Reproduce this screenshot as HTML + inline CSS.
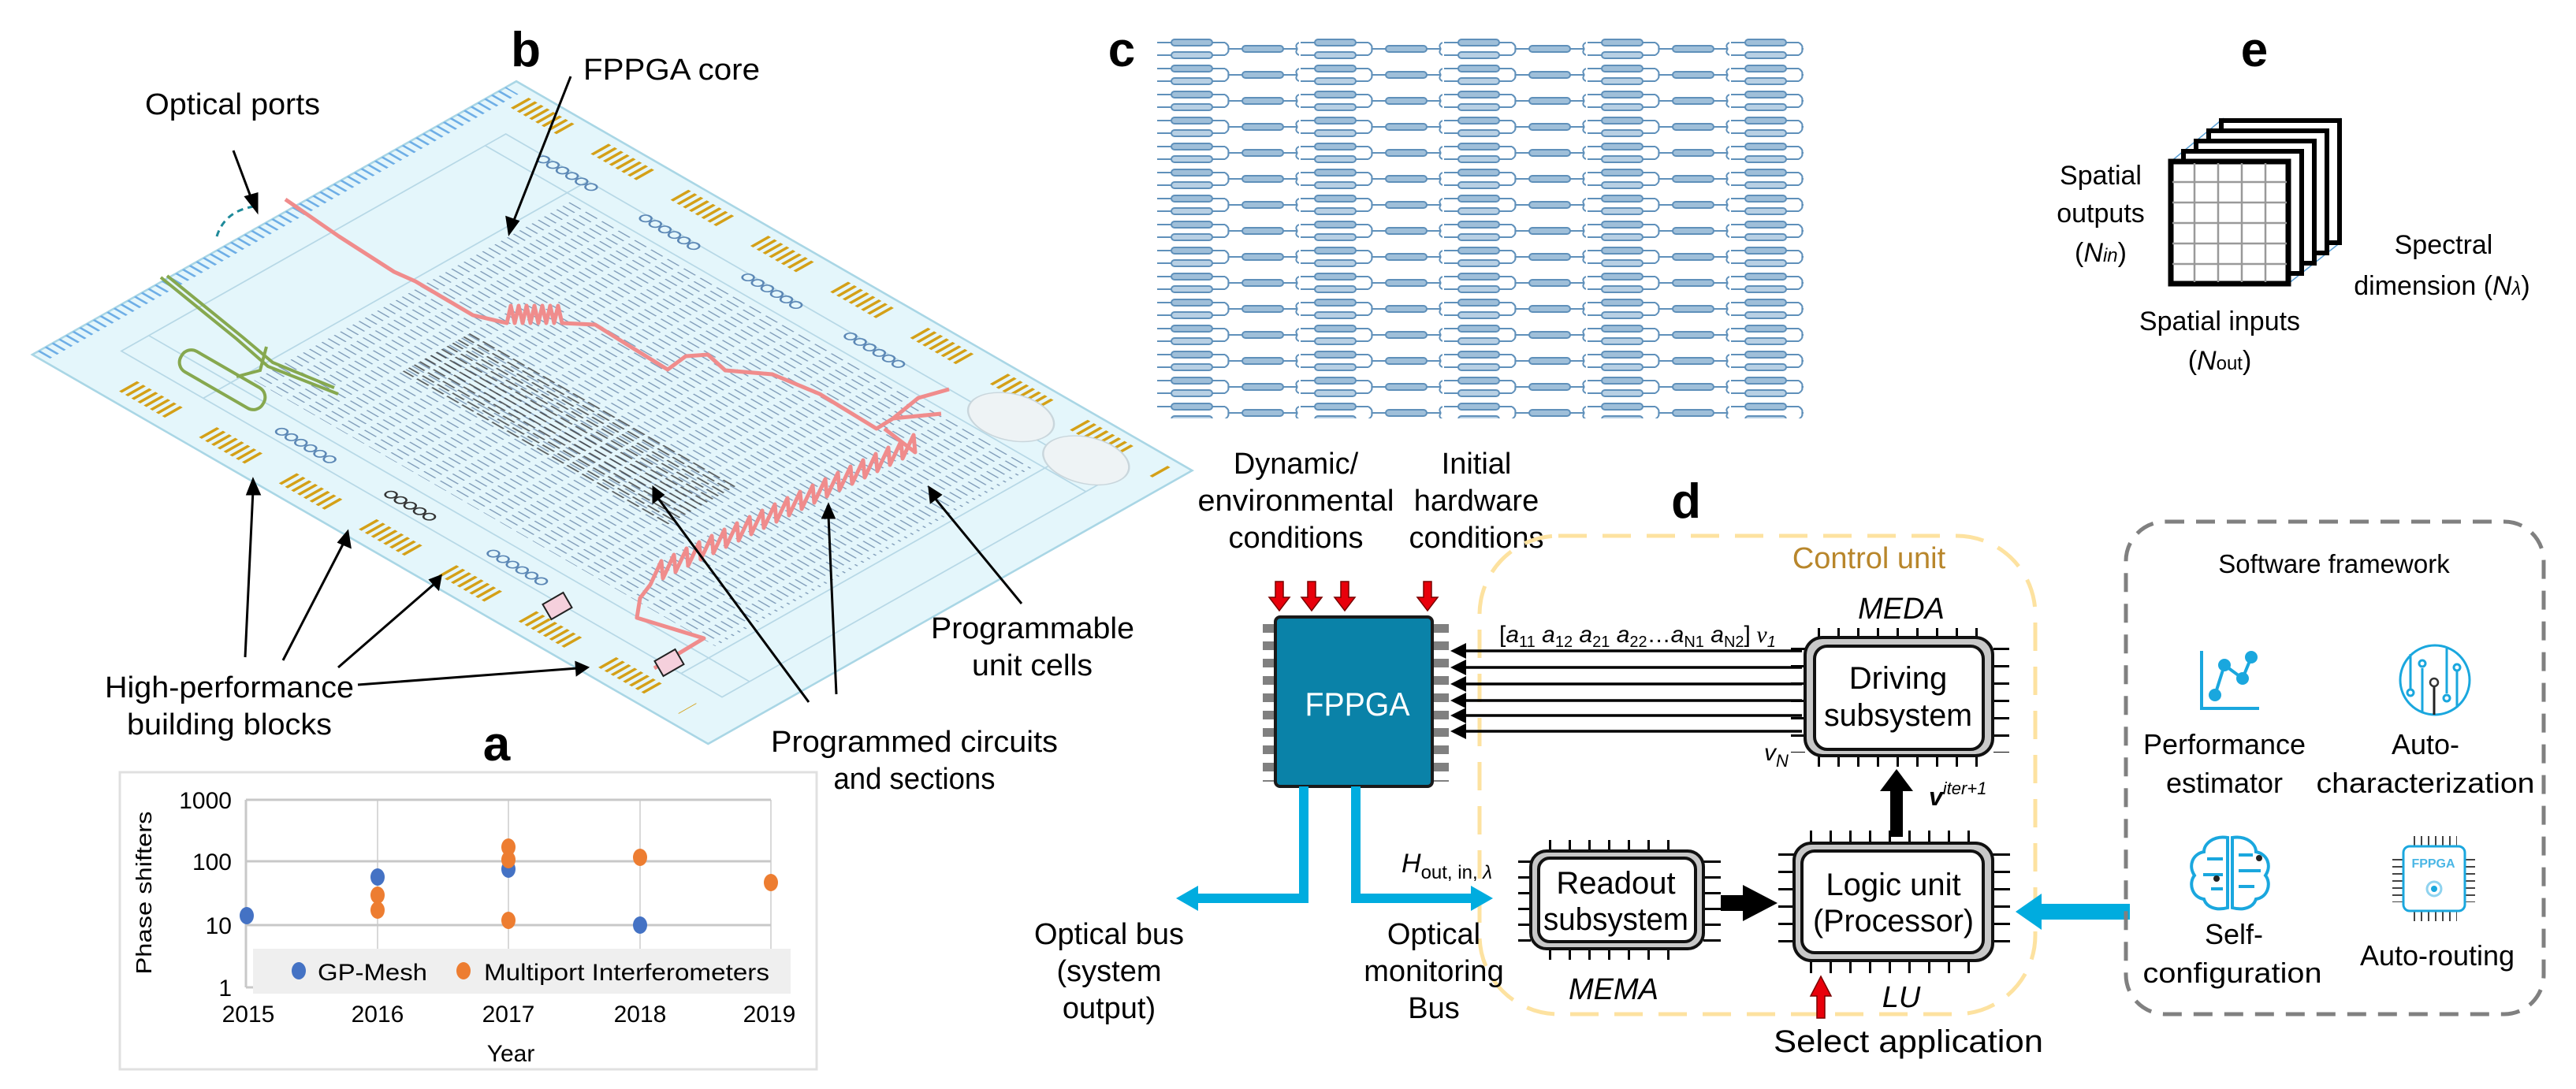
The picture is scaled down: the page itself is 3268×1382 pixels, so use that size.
<!DOCTYPE html>
<html><head><meta charset="utf-8">
<style>
html,body{margin:0;padding:0;background:#fff;}
svg{display:block;}
text{font-family:"Liberation Sans",Arial,sans-serif;}
.n{font-family:"Liberation Sans Narrow","Liberation Sans",sans-serif;}
.tm{font-family:"Liberation Serif",serif;font-style:italic;}
</style></head><body>
<svg width="3268" height="1382" viewBox="0 0 3268 1382" xmlns="http://www.w3.org/2000/svg">
<defs>
<pattern id="mesh" patternUnits="userSpaceOnUse" width="9" height="24">
<line x1="4" y1="2" x2="4" y2="19" stroke="#7f9bb8" stroke-width="1.6"/>
</pattern>
<pattern id="dmesh" patternUnits="userSpaceOnUse" width="8" height="22">
<line x1="4" y1="2" x2="4" y2="19" stroke="#333" stroke-width="2"/>
</pattern>
<pattern id="cp" patternUnits="userSpaceOnUse" x="1466" y="46" width="182" height="33">
<g stroke="#5f90ba" fill="none" stroke-width="2">
<line x1="2" y1="8" x2="88" y2="8"/><rect x="20" y="4" width="52" height="8" rx="4" fill="#9fbfd9"/>
<line x1="2" y1="24" x2="88" y2="24"/><rect x="20" y="20" width="52" height="8" rx="4" fill="#b8d0e4"/>
<path d="M88 8 q6 4 4 8 M88 24 q6 -4 4 -8"/>
<line x1="92" y1="16" x2="180" y2="16"/><rect x="110" y="12" width="52" height="8" rx="4" fill="#9fbfd9"/>
<path d="M180 16 q-4 -5 2 -8 M180 16 q-4 5 2 8"/>
</g>
</pattern>
</defs>

<!-- ===== Panel b chip ===== -->
<g transform="matrix(0.871,-0.492,0.866,0.499,41,450)">
<rect x="0" y="0" width="705" height="990" fill="#e4f6fb" stroke="#a9d6e5" stroke-width="3"/>
<line x1="8" y1="9" x2="690" y2="9" stroke="#6eaee6" stroke-width="18" stroke-dasharray="3 7"/>
<line x1="680" y1="30" x2="680" y2="970" stroke="#d4a017" stroke-width="26" stroke-dasharray="4,5,4,5,4,5,4,5,4,5,4,5,4,5,4,50"/>
<line x1="30" y1="110" x2="30" y2="930" stroke="#d4a017" stroke-width="26" stroke-dasharray="4,5,4,5,4,5,4,5,4,5,4,5,4,5,4,50"/>
<g fill="none" stroke="#b7d8e6" stroke-width="2">
<rect x="70" y="60" width="560" height="880"/>
<line x1="70" y1="180" x2="630" y2="180"/><line x1="70" y1="880" x2="630" y2="880"/>
<line x1="600" y1="60" x2="600" y2="940"/><line x1="110" y1="60" x2="110" y2="940"/>
</g>
<rect x="130" y="190" width="460" height="680" fill="url(#mesh)"/>
<rect x="250" y="290" width="100" height="390" fill="url(#dmesh)" opacity="0.8"/>
<g fill="none" stroke="#5b87b5" stroke-width="2.2">
<circle cx="625" cy="120" r="6"/><circle cx="625" cy="134" r="6"/><circle cx="625" cy="148" r="6"/><circle cx="625" cy="162" r="6"/><circle cx="625" cy="176" r="6"/><circle cx="625" cy="190" r="6"/>
<circle cx="625" cy="270" r="6"/><circle cx="625" cy="284" r="6"/><circle cx="625" cy="298" r="6"/><circle cx="625" cy="312" r="6"/><circle cx="625" cy="326" r="6"/><circle cx="625" cy="340" r="6"/>
<circle cx="625" cy="420" r="6"/><circle cx="625" cy="434" r="6"/><circle cx="625" cy="448" r="6"/><circle cx="625" cy="462" r="6"/><circle cx="625" cy="476" r="6"/><circle cx="625" cy="490" r="6"/>
<circle cx="625" cy="570" r="6"/><circle cx="625" cy="584" r="6"/><circle cx="625" cy="598" r="6"/><circle cx="625" cy="612" r="6"/><circle cx="625" cy="626" r="6"/><circle cx="625" cy="640" r="6"/>
<circle cx="85" cy="280" r="6"/><circle cx="85" cy="294" r="6"/><circle cx="85" cy="308" r="6"/><circle cx="85" cy="322" r="6"/><circle cx="85" cy="336" r="6"/><circle cx="85" cy="350" r="6"/>
<circle cx="85" cy="440" r="6" stroke="#333"/><circle cx="85" cy="454" r="6" stroke="#333"/><circle cx="85" cy="468" r="6" stroke="#333"/><circle cx="85" cy="482" r="6" stroke="#333"/><circle cx="85" cy="496" r="6" stroke="#333"/>
<circle cx="85" cy="590" r="6"/><circle cx="85" cy="604" r="6"/><circle cx="85" cy="618" r="6"/><circle cx="85" cy="632" r="6"/><circle cx="85" cy="646" r="6"/><circle cx="85" cy="660" r="6"/>
</g>
<ellipse cx="640" cy="790" rx="38" ry="50" fill="#eef3f5" stroke="#c9d6dc" stroke-width="2"/>
<ellipse cx="640" cy="900" rx="38" ry="50" fill="#eef3f5" stroke="#c9d6dc" stroke-width="2"/>
</g>
<!-- green structure -->
<g fill="none" stroke="#86a84f" stroke-width="4">
<path d="M204 352 L300 430 L340 465 L429 500"/>
<path d="M212 350 L308 428 L346 460 L424 492"/>
<path d="M338 440 L330 470 L300 478"/>
<rect x="222" y="467" width="120" height="30" rx="14" transform="rotate(30 282 482)"/>
</g>
<!-- red route -->
<g fill="none" stroke="#f08c8c" stroke-width="5" stroke-linejoin="round">
<path d="M362 253 L430 300 L500 345 L527 357 L600 400 L643 410 l5 -22 l5 22 l5 -22 l5 22 l5 -22 l5 22 l5 -22 l5 22 l5 -22 l5 22 l5 -22 l5 22 l5 -22 l5 22 L755 412 L800 440 L847 469 L870 452 L898 450 L920 470 L980 475 L1040 500 L1112 544 L1133 531 L1165 505 L1204 494 M1133 531 L1194 525"/>
<path d="M1122 544 L1161 574 l-2 -22 l-14 30 l-2 -22 l-14 30 l-2 -22 l-14 30 l-2 -22 l-14 30 l-2 -22 l-14 30 l-2 -22 l-14 30 l-2 -22 l-14 30 l-2 -22 l-14 30 l-2 -22 l-14 30 l-2 -22 l-14 30 l-2 -22 l-14 30 l-2 -22 l-14 30 l-2 -22 l-14 30 l-2 -22 l-14 30 l-2 -22 l-14 30 l-2 -22 l-14 30 l-2 -22 l-14 30 l-2 -22 l-14 30 l-2 -22 l-14 30 l-2 -22 l-14 30 l-2 -22 l-14 30 L812 759 L808 784 L893 810 L830 848"/>
</g>
<g stroke="#222" stroke-width="2" fill="#f5d0dc"><rect x="692" y="758" width="30" height="22" transform="rotate(-30 707 769)"/><rect x="834" y="830" width="30" height="22" transform="rotate(-30 849 841)"/></g>

<!-- b labels -->
<text x="667" y="84" font-size="62" font-weight="bold" text-anchor="middle">b</text>
<text x="740" y="101" font-size="38" class="n" textLength="224" lengthAdjust="spacingAndGlyphs">FPPGA core</text>
<text x="184" y="145" font-size="38" class="n" textLength="222" lengthAdjust="spacingAndGlyphs">Optical ports</text>
<path d="M275 300 Q285 268 322 262" fill="none" stroke="#1f8a9a" stroke-width="3" stroke-dasharray="8 6"/>
<g stroke="#000" stroke-width="3" fill="#000">
<line x1="296" y1="191" x2="320" y2="255"/><polygon points="326,268 312,250 326,246"/>
<line x1="724" y1="97" x2="651" y2="282"/><polygon points="646,296 643,276 657,281"/>
<line x1="311" y1="834" x2="321" y2="622"/><polygon points="321,609 314,627 329,627"/>
<line x1="359" y1="838" x2="437" y2="687"/><polygon points="441,675 430,688 444,694"/>
<line x1="429" y1="847" x2="551" y2="741"/><polygon points="559,731 546,736 556,747"/>
<line x1="454" y1="869" x2="733" y2="848"/><polygon points="745,847 731,841 732,856"/>
<line x1="1026" y1="891" x2="834" y2="631"/><polygon points="829,619 829,637 841,628"/>
<line x1="1061" y1="881" x2="1051" y2="654"/><polygon points="1051,641 1044,657 1058,657"/>
<line x1="1296" y1="766" x2="1185" y2="631"/><polygon points="1179,619 1181,637 1193,628"/>
</g>
<text x="133" y="885" font-size="38" class="n" textLength="316" lengthAdjust="spacingAndGlyphs">High-performance</text>
<text x="161" y="932" font-size="38" class="n" textLength="260" lengthAdjust="spacingAndGlyphs">building blocks</text>
<text x="978" y="954" font-size="38" class="n" textLength="364" lengthAdjust="spacingAndGlyphs">Programmed circuits</text>
<text x="1160" y="1001" font-size="38" class="n" text-anchor="middle" textLength="205" lengthAdjust="spacingAndGlyphs">and sections</text>
<text x="1181" y="810" font-size="38" class="n" textLength="258" lengthAdjust="spacingAndGlyphs">Programmable</text>
<text x="1233" y="857" font-size="38" class="n" textLength="153" lengthAdjust="spacingAndGlyphs">unit cells</text>

<!-- ===== Panel a chart ===== -->
<text x="630" y="965" font-size="62" font-weight="bold" text-anchor="middle">a</text>
<rect x="152" y="980" width="884" height="377" fill="#fff" stroke="#e0e0e0" stroke-width="3"/>
<g stroke="#d9d9d9" stroke-width="2">
<line x1="479" y1="1015" x2="479" y2="1253"/><line x1="645" y1="1015" x2="645" y2="1253"/><line x1="812" y1="1015" x2="812" y2="1253"/><line x1="978" y1="1015" x2="978" y2="1253"/>
</g>
<g stroke="#c8c8c8" stroke-width="3">
<line x1="312" y1="1015" x2="978" y2="1015"/><line x1="312" y1="1093" x2="978" y2="1093"/><line x1="312" y1="1174" x2="978" y2="1174"/><line x1="312" y1="1253" x2="978" y2="1253"/>
<line x1="312" y1="1015" x2="312" y2="1253"/>
</g>
<rect x="321" y="1204" width="682" height="57" fill="#efefef"/>
<g fill="#4472c4"><ellipse cx="313" cy="1162" rx="9" ry="11"/><ellipse cx="479" cy="1113" rx="9" ry="11"/><ellipse cx="645" cy="1103" rx="9" ry="11"/><ellipse cx="812" cy="1174" rx="9" ry="11"/><ellipse cx="379" cy="1232" rx="9" ry="11"/></g>
<g fill="#ed7d31"><ellipse cx="479" cy="1136" rx="9" ry="11"/><ellipse cx="479" cy="1155" rx="9" ry="11"/><ellipse cx="645" cy="1075" rx="9" ry="11"/><ellipse cx="645" cy="1091" rx="9" ry="11"/><ellipse cx="645" cy="1168" rx="9" ry="11"/><ellipse cx="812" cy="1088" rx="9" ry="11"/><ellipse cx="978" cy="1120" rx="9" ry="11"/><ellipse cx="588" cy="1232" rx="9" ry="11"/></g>
<g font-size="30" class="n">
<text x="403" y="1244" textLength="139" lengthAdjust="spacingAndGlyphs">GP-Mesh</text>
<text x="614" y="1244" textLength="362" lengthAdjust="spacingAndGlyphs">Multiport Interferometers</text>
<g text-anchor="end"><text x="294" y="1026">1000</text><text x="294" y="1104">100</text><text x="294" y="1185">10</text><text x="294" y="1264">1</text></g>
<g text-anchor="middle"><text x="315" y="1297">2015</text><text x="479" y="1297">2016</text><text x="645" y="1297">2017</text><text x="812" y="1297">2018</text><text x="976" y="1297">2019</text><text x="648" y="1347">Year</text></g>
</g>
<text transform="translate(192,1133) rotate(-90)" font-size="28" text-anchor="middle" textLength="207" lengthAdjust="spacingAndGlyphs">Phase shifters</text>

<!-- ===== Panel c ===== -->
<text x="1423" y="84" font-size="62" font-weight="bold" text-anchor="middle">c</text>
<rect x="1466" y="46" width="822" height="485" fill="url(#cp)"/>

<!-- ===== Panel e ===== -->
<text x="2860" y="84" font-size="62" font-weight="bold" text-anchor="middle">e</text>
<g stroke="#5a9fd4" stroke-width="1.5"><line x1="2754" y1="205" x2="2821" y2="150"/><line x1="2903" y1="205" x2="2970" y2="150"/><line x1="2903" y1="360" x2="2970" y2="307"/></g>
<rect x="2818" y="153" width="150" height="155" fill="#fff" stroke="#000" stroke-width="6"/>
<rect x="2802" y="166" width="150" height="155" fill="#fff" stroke="#000" stroke-width="6"/>
<rect x="2786" y="179" width="150" height="155" fill="#fff" stroke="#000" stroke-width="6"/>
<rect x="2770" y="192" width="150" height="155" fill="#fff" stroke="#000" stroke-width="6"/>
<rect x="2754" y="205" width="149" height="155" fill="#fff" stroke="#000" stroke-width="7"/>
<g stroke="#999" stroke-width="2.5">
<line x1="2784" y1="207" x2="2784" y2="358"/><line x1="2814" y1="207" x2="2814" y2="358"/><line x1="2844" y1="207" x2="2844" y2="358"/><line x1="2874" y1="207" x2="2874" y2="358"/>
<line x1="2756" y1="231" x2="2901" y2="231"/><line x1="2756" y1="257" x2="2901" y2="257"/><line x1="2756" y1="283" x2="2901" y2="283"/><line x1="2756" y1="309" x2="2901" y2="309"/><line x1="2756" y1="335" x2="2901" y2="335"/>
</g>
<g font-size="34" class="n" text-anchor="middle">
<text x="2665" y="234">Spatial</text><text x="2665" y="282">outputs</text>
<text x="2665" y="332">(<tspan font-style="italic">N</tspan><tspan font-style="italic" font-size="24">in</tspan>)</text>
<text x="3100" y="322">Spectral</text>
<text x="3098" y="374">dimension (<tspan font-style="italic">N</tspan><tspan font-size="24" font-style="italic">λ</tspan>)</text>
<text x="2816" y="419">Spatial inputs</text>
<text x="2816" y="469">(<tspan font-style="italic">N</tspan><tspan font-size="24">out</tspan>)</text>
</g>

<!-- ===== Panel d ===== -->
<text x="2139" y="657" font-size="62" font-weight="bold" text-anchor="middle">d</text>
<g font-size="38" class="n" text-anchor="middle">
<text x="1644" y="601">Dynamic/</text><text x="1644" y="648" textLength="249" lengthAdjust="spacingAndGlyphs">environmental</text><text x="1644" y="695">conditions</text>
<text x="1873" y="601">Initial</text><text x="1873" y="648">hardware</text><text x="1873" y="695">conditions</text>
</g>
<rect x="1877" y="680" width="705" height="607" rx="100" fill="none" stroke="#fde2a0" stroke-width="5" stroke-dasharray="36 20"/>
<text x="2371" y="721" font-size="38" class="n" fill="#b8862b" text-anchor="middle">Control unit</text>

<g fill="#e8000b" stroke="#7a0000" stroke-width="1.5">
<path d="M1618 738 h10 v20 h8 l-13 17 l-13 -17 h8z"/>
<path d="M1659 738 h10 v20 h8 l-13 17 l-13 -17 h8z"/>
<path d="M1701 738 h10 v20 h8 l-13 17 l-13 -17 h8z"/>
<path d="M1806 738 h10 v20 h8 l-13 17 l-13 -17 h8z"/>
<path d="M2305 1292 h10 v-28 h8 l-13 -25 l-13 25 h8z"/>
</g>

<line x1="1610" y1="792" x2="1610" y2="992" stroke="#808080" stroke-width="16" stroke-dasharray="11 11"/>
<line x1="1828" y1="792" x2="1828" y2="992" stroke="#808080" stroke-width="20" stroke-dasharray="11 11"/>
<rect x="1618" y="783" width="199" height="215" rx="6" fill="#0a82a8" stroke="#1a1a1a" stroke-width="4"/>
<text x="1722" y="908" font-size="42" fill="#fff" class="n" text-anchor="middle" textLength="133" lengthAdjust="spacingAndGlyphs">FPPGA</text>

<g stroke="#000" stroke-width="3.5"><line x1="1850" y1="826" x2="2286" y2="826"/><line x1="1850" y1="847" x2="2286" y2="847"/><line x1="1850" y1="868" x2="2286" y2="868"/><line x1="1850" y1="889" x2="2286" y2="889"/><line x1="1850" y1="908" x2="2286" y2="908"/><line x1="1850" y1="928" x2="2286" y2="928"/></g>
<g fill="#000"><polygon points="1840,826 1860,816 1860,836"/><polygon points="1840,847 1860,837 1860,857"/><polygon points="1840,868 1860,858 1860,878"/><polygon points="1840,889 1860,879 1860,899"/><polygon points="1840,908 1860,898 1860,918"/><polygon points="1840,928 1860,918 1860,938"/></g>
<text x="1902" y="815" font-size="30" class="n">[<tspan font-style="italic">a</tspan><tspan font-size="20" dy="6">11</tspan><tspan dy="-6" font-style="italic"> a</tspan><tspan font-size="20" dy="6">12</tspan><tspan dy="-6" font-style="italic"> a</tspan><tspan font-size="20" dy="6">21</tspan><tspan dy="-6" font-style="italic"> a</tspan><tspan font-size="20" dy="6">22</tspan><tspan dy="-6">…</tspan><tspan font-style="italic">a</tspan><tspan font-size="20" dy="6">N1</tspan><tspan dy="-6" font-style="italic"> a</tspan><tspan font-size="20" dy="6">N2</tspan><tspan dy="-6">]</tspan><tspan font-family="Liberation Serif" font-style="italic"> v</tspan><tspan font-size="20" dy="6" font-style="italic">1</tspan></text>
<text x="2238" y="965" font-size="30" font-family="Liberation Serif" font-style="italic">v<tspan font-size="22" dy="8">N</tspan></text>

<g stroke="#000">
<line x1="2306" y1="803" x2="2520" y2="803" stroke-width="12" stroke-dasharray="3 22"/>
<line x1="2306" y1="966" x2="2520" y2="966" stroke-width="14" stroke-dasharray="3 22"/>
<line x1="2539" y1="822" x2="2539" y2="955" stroke-width="20" stroke-dasharray="3 19"/>
<line x1="2281" y1="822" x2="2281" y2="955" stroke-width="18" stroke-dasharray="3 19"/>
</g>
<rect x="2290" y="809" width="238" height="150" rx="22" fill="#c8c8c8" stroke="#111" stroke-width="4"/>
<rect x="2302" y="820" width="214" height="131" rx="16" fill="#fff" stroke="#111" stroke-width="4"/>
<text x="2408" y="874" font-size="40" class="n" text-anchor="middle">Driving</text>
<text x="2408" y="921" font-size="40" class="n" text-anchor="middle" textLength="188" lengthAdjust="spacingAndGlyphs">subsystem</text>
<text x="2412" y="785" font-size="38" class="n" font-style="italic" text-anchor="middle">MEDA</text>

<rect x="2398" y="1000" width="16" height="62" fill="#000"/>
<polygon points="2406,976 2385,1004 2427,1004" fill="#000"/>
<text x="2447" y="1022" font-size="32" font-family="Liberation Serif" font-style="italic" font-weight="bold">v<tspan font-size="22" dy="-14" font-weight="normal">iter+1</tspan></text>

<g stroke="#000">
<line x1="2296" y1="1062" x2="2520" y2="1062" stroke-width="16" stroke-dasharray="3 22"/>
<line x1="2296" y1="1227" x2="2520" y2="1227" stroke-width="16" stroke-dasharray="3 22"/>
<line x1="2539" y1="1083" x2="2539" y2="1213" stroke-width="22" stroke-dasharray="3 19"/>
<line x1="2266" y1="1083" x2="2266" y2="1213" stroke-width="20" stroke-dasharray="3 19"/>
</g>
<rect x="2276" y="1070" width="252" height="149" rx="22" fill="#c8c8c8" stroke="#111" stroke-width="4"/>
<rect x="2286" y="1080" width="230" height="129" rx="16" fill="#fff" stroke="#111" stroke-width="4"/>
<text x="2402" y="1136" font-size="40" class="n" text-anchor="middle">Logic unit</text>
<text x="2402" y="1182" font-size="40" class="n" text-anchor="middle" textLength="204" lengthAdjust="spacingAndGlyphs">(Processor)</text>
<text x="2412" y="1278" font-size="38" class="n" font-style="italic" text-anchor="middle">LU</text>

<g stroke="#000">
<line x1="1965" y1="1073" x2="2140" y2="1073" stroke-width="14" stroke-dasharray="3 22"/>
<line x1="1965" y1="1211" x2="2140" y2="1211" stroke-width="14" stroke-dasharray="3 22"/>
<line x1="2172" y1="1092" x2="2172" y2="1196" stroke-width="22" stroke-dasharray="3 17"/>
<line x1="1934" y1="1092" x2="1934" y2="1196" stroke-width="16" stroke-dasharray="3 17"/>
</g>
<rect x="1942" y="1080" width="219" height="124" rx="20" fill="#c8c8c8" stroke="#111" stroke-width="4"/>
<rect x="1952" y="1089" width="199" height="106" rx="14" fill="#fff" stroke="#111" stroke-width="4"/>
<text x="2050" y="1134" font-size="40" class="n" text-anchor="middle">Readout</text>
<text x="2050" y="1180" font-size="40" class="n" text-anchor="middle" textLength="184" lengthAdjust="spacingAndGlyphs">subsystem</text>
<text x="2047" y="1268" font-size="38" class="n" font-style="italic" text-anchor="middle">MEMA</text>
<rect x="2183" y="1136" width="30" height="20" fill="#000"/>
<polygon points="2255,1146 2211,1123 2211,1169" fill="#000"/>

<g fill="none" stroke="#00acdf" stroke-width="12">
<path d="M1654 998 V1140 H1515"/>
<path d="M1720 998 V1140 H1870"/>
</g>
<g fill="#00acdf">
<polygon points="1492,1140 1520,1124 1520,1156"/>
<polygon points="1894,1140 1866,1124 1866,1156"/>
<rect x="2585" y="1147" width="117" height="20"/>
<polygon points="2557,1157 2590,1134 2590,1180"/>
</g>
<text x="1778" y="1107" font-size="34" font-family="Liberation Serif" font-style="italic">H<tspan font-family="Liberation Sans" font-style="normal" font-size="24" dy="8">out, in, </tspan><tspan font-size="24">λ</tspan></text>
<g font-size="38" class="n" text-anchor="middle">
<text x="1407" y="1198">Optical bus</text><text x="1407" y="1245">(system</text><text x="1407" y="1292">output)</text>
<text x="1819" y="1198">Optical</text><text x="1819" y="1245">monitoring</text><text x="1819" y="1292">Bus</text>
</g>
<text x="2421" y="1335" font-size="40" class="n" text-anchor="middle" textLength="342" lengthAdjust="spacingAndGlyphs">Select application</text>

<rect x="2697" y="662" width="530" height="625" rx="50" fill="none" stroke="#808080" stroke-width="5" stroke-dasharray="24 15"/>
<text x="2961" y="727" font-size="33" text-anchor="middle">Software framework</text>
<g stroke="#1aa7de" fill="#1aa7de" stroke-width="4">
<polyline points="2793,826 2793,899 2866,899" fill="none"/>
<polyline points="2810,882 2822,844 2845,861 2856,834" fill="none"/>
<circle cx="2810" cy="882" r="6"/><circle cx="2822" cy="844" r="6"/><circle cx="2845" cy="861" r="6"/><circle cx="2856" cy="834" r="6"/>
</g>
<g stroke="#1aa7de" fill="none" stroke-width="3">
<ellipse cx="3089" cy="863" rx="44" ry="44"/>
<line x1="3058" y1="830" x2="3058" y2="874"/><line x1="3073" y1="848" x2="3073" y2="905"/><line x1="3104" y1="823" x2="3104" y2="880"/><line x1="3117" y1="852" x2="3117" y2="898"/>
<circle cx="3058" cy="879" r="4"/><circle cx="3073" cy="842" r="4"/><circle cx="3104" cy="886" r="4"/><circle cx="3117" cy="847" r="4"/>
</g>
<line x1="3088" y1="871" x2="3088" y2="907" stroke="#222" stroke-width="3"/><circle cx="3088" cy="866" r="5" fill="none" stroke="#333" stroke-width="2.5"/>
<g stroke="#1aa7de" fill="none" stroke-width="4">
<path d="M2826 1063 c-18 -3 -30 8 -30 18 c-15 3 -20 18 -12 30 c-8 10 -3 28 12 30 c3 10 15 15 30 11 z"/>
<path d="M2832 1063 c18 -3 30 8 30 18 c15 3 20 18 12 30 c8 10 3 28 -12 30 c-3 10 -15 15 -30 11 z"/>
<path d="M2800 1090 h20 M2795 1110 h25 M2805 1128 h15 M2840 1085 h18 M2840 1105 h28 M2840 1125 h20"/>
</g>
<circle cx="2866" cy="1089" r="4" fill="#222"/><circle cx="2812" cy="1115" r="4" fill="#222"/>
<g stroke="#444" stroke-width="2">
<line x1="3062" y1="1068" x2="3117" y2="1068" stroke-width="14" stroke-dasharray="2 7"/>
<line x1="3062" y1="1162" x2="3117" y2="1162" stroke-width="14" stroke-dasharray="2 7"/>
<line x1="3042" y1="1090" x2="3042" y2="1145" stroke-width="14" stroke-dasharray="2 7"/>
<line x1="3133" y1="1090" x2="3133" y2="1145" stroke-width="14" stroke-dasharray="2 7"/>
</g>
<rect x="3049" y="1074" width="78" height="82" rx="8" fill="#fff" stroke="#1aa7de" stroke-width="3"/>
<text x="3087" y="1101" font-size="16" font-weight="bold" fill="#4ab6e5" text-anchor="middle">FPPGA</text>
<circle cx="3088" cy="1128" r="9" fill="none" stroke="#8fd3ef" stroke-width="3"/><circle cx="3088" cy="1128" r="4" fill="#1aa7de"/>
<g font-size="36" text-anchor="middle">
<text x="2822" y="957">Performance</text><text x="2822" y="1006">estimator</text>
<text x="3077" y="957">Auto-</text><text x="3077" y="1006" textLength="277" lengthAdjust="spacingAndGlyphs">characterization</text>
<text x="2834" y="1198">Self-</text><text x="2832" y="1247" textLength="227" lengthAdjust="spacingAndGlyphs">configuration</text>
<text x="3092" y="1225">Auto-routing</text>
</g>
</svg>
</body></html>
